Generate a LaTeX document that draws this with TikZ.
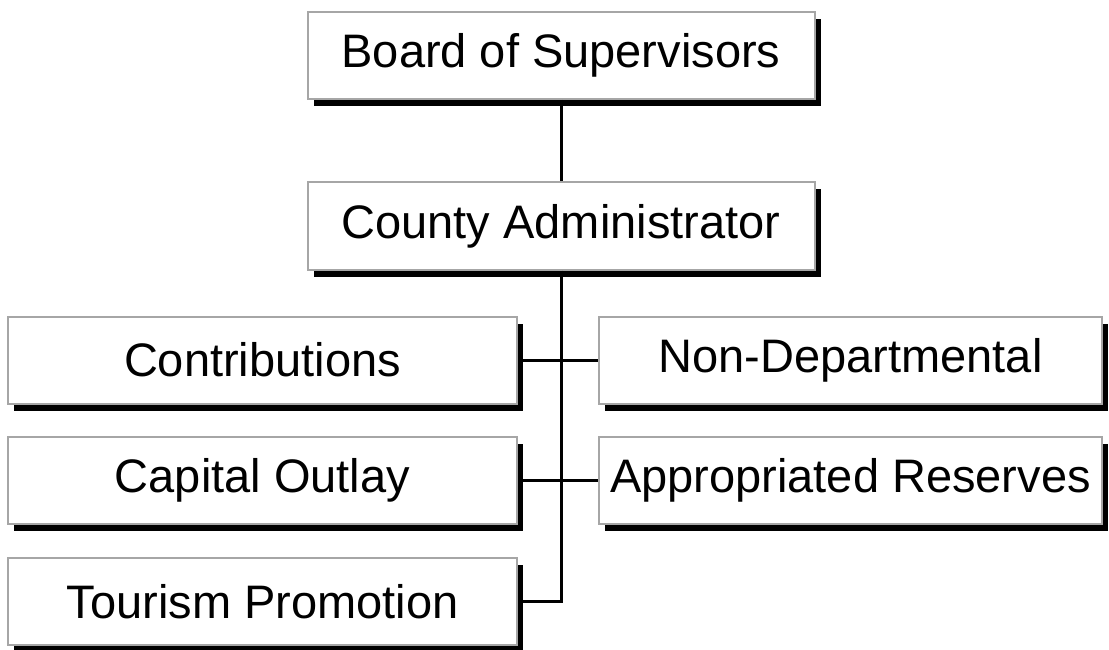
\documentclass[tikz,border=0pt]{standalone}
\usepackage{fontspec}
\setmainfont{Liberation Sans}
\usepackage{tikz}
\usetikzlibrary{shadows}

\tikzset{
  unit/.style={draw=gray!70, line width=2pt, fill=white, inner sep=0pt,
    minimum height=87pt, font=\fontsize{47}{50}\selectfont,
    drop shadow={shadow xshift=6pt, shadow yshift=-7pt, fill=black, opacity=1}},
  link/.style={line width=3pt}
}

\begin{document}
\begin{tikzpicture}[x=1pt, y=-1pt]
        \useasboundingbox (0, 0) rectangle (1109, 650);

        \node[unit, minimum width=507pt] (Board) at (561, 55.5) {Board of Supervisors};
        \node[unit, minimum width=507pt] (Admin) at (561, 226) {County Administrator};

        \node[unit, minimum width=509pt] (Contrib) at (262.5, 360) {Contributions};
        \node[unit, minimum width=509pt] (Capital) at (262.5, 480.5) {Capital Outlay};
        \node[unit, minimum width=509pt] (Tourism) at (262.5, 601.5) {Tourism Promotion};

        \node[unit, minimum width=503pt] (NonDept) at (850.5, 360) {Non-Departmental};
        \node[unit, minimum width=503pt] (Reserve) at (850.5, 480.5) {Appropriated Reserves};

        \coordinate (trunk) at (Admin.south |- Tourism.east);

        \draw[link] (Board.south) -- (Admin.north);
        \draw[link] (Admin.south) -- (trunk) -- (Tourism.east);
        \draw[link] (Contrib.east) -- (NonDept.west);
        \draw[link] (Capital.east) -- (Reserve.west);
      \end{tikzpicture}
\end{document}
